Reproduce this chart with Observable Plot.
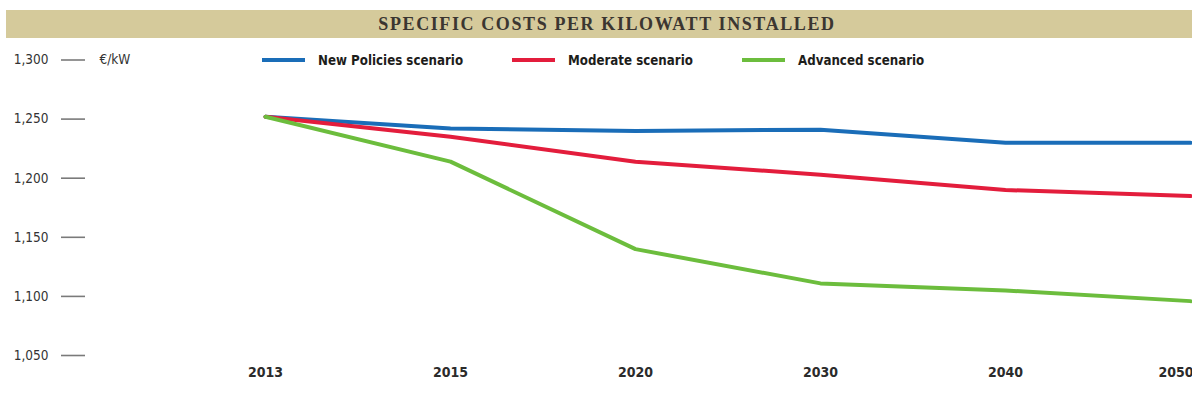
<!DOCTYPE html>
<html>
<head>
<meta charset="utf-8">
<script src="https://cdn.jsdelivr.net/npm/d3@7"></script>
<script src="https://cdn.jsdelivr.net/npm/@observablehq/plot@0.6"></script>
<style>
  html, body { margin: 0; padding: 0; background: #fff; }
  #wrap { position: relative; width: 1192px; height: 412px; overflow: hidden; }
  #titlebar { height: 40px; position: relative; }
  #band { position: absolute; left: 6px; right: 0; top: 10px; height: 28px; background: #d5ca9b;
          display: flex; align-items: center; justify-content: center; }
  #band span { font-family: "Liberation Serif", "DejaVu Serif", serif; font-weight: bold; font-size: 18px;
          letter-spacing: 1.6px; color: #3b3631; margin-left: 16px; }
  .leg { position: absolute; top: 51px; display: flex; align-items: center; height: 18px;
         font-family: "Liberation Sans Narrow", "DejaVu Sans Condensed", sans-serif; font-weight: bold;
         font-size: 13.2px; color: #1d1d1b; }
  .leg i { display: inline-block; width: 43px; height: 4px; margin-right: 13px; }
  svg { display: block; }
</style>
</head>
<body>
<div id="wrap">
  <div id="titlebar"><div id="band"><span>SPECIFIC COSTS PER KILOWATT INSTALLED</span></div></div>
  <div id="chart"></div>
</div>
<script>
const years = ["2013", "2015", "2020", "2030", "2040", "2050"];
const newPolicies = [1252, 1242, 1240, 1241, 1230, 1230];
const moderate    = [1252, 1235, 1214, 1203, 1190, 1185];
const advanced    = [1252, 1214, 1140, 1111, 1105, 1096];
const seriesNames = ["New Policies scenario", "Moderate scenario", "Advanced scenario"];
const seriesColors = ["#1a6db8", "#e31d3c", "#6cbd3d"];
const yTicks = [1050, 1100, 1150, 1200, 1250, 1300];
const unitLabel = "€/kW";

const seriesValues = [newPolicies, moderate, advanced];
const rows = [];
seriesNames.forEach((name, i) => {
  years.forEach((yr, j) => rows.push({series: name, year: yr, value: seriesValues[i][j]}));
});

const narrow = '"Liberation Sans Narrow", "DejaVu Sans Condensed", sans-serif';

const chart = Plot.plot({
  width: 1192,
  height: 372,
  marginTop: 19.5,
  marginBottom: 57,
  marginLeft: 85,
  marginRight: 0,
  style: {fontFamily: narrow, background: "#fff", overflow: "visible"},
  x: {type: "point", domain: years, range: [263, 1192], padding: 0, axis: null},
  y: {domain: [1050, 1300], axis: null},
  color: {domain: seriesNames, range: seriesColors},
  marks: [
    Plot.axisY({
      ticks: yTicks, tickSize: 24, tickPadding: 13, tickFormat: d3.format(","),
      stroke: "#7a7a7a", strokeWidth: 1.6, fill: "#333", fontSize: 13.5, label: null
    }),
    Plot.text([unitLabel], {frameAnchor: "top-left", dx: 14, textAnchor: "start", lineAnchor: "middle", fontSize: 13.5, fill: "#333"}),
    Plot.line(rows, {x: "year", y: "value", z: "series", stroke: "series", strokeWidth: 4, strokeLinejoin: "miter", clip: false}),
    Plot.text(years.slice(0, -1), {x: d => d, frameAnchor: "bottom", dy: 21, fontSize: 14, fontWeight: "bold", fill: "#2b2b2b"}),
    Plot.text(years.slice(-1), {x: d => d, frameAnchor: "bottom", dy: 21, dx: 3, textAnchor: "end", fontSize: 14, fontWeight: "bold", fill: "#2b2b2b"})
  ]
});
document.getElementById("chart").appendChild(chart);

const legendLeft = [262, 512, 742];
const wrap = document.getElementById("wrap");
seriesNames.forEach((name, i) => {
  const d = document.createElement("div");
  d.className = "leg";
  d.style.left = legendLeft[i] + "px";
  const sw = document.createElement("i");
  sw.style.background = seriesColors[i];
  d.appendChild(sw);
  d.appendChild(document.createTextNode(name));
  wrap.appendChild(d);
});
</script>
</body>
</html>
